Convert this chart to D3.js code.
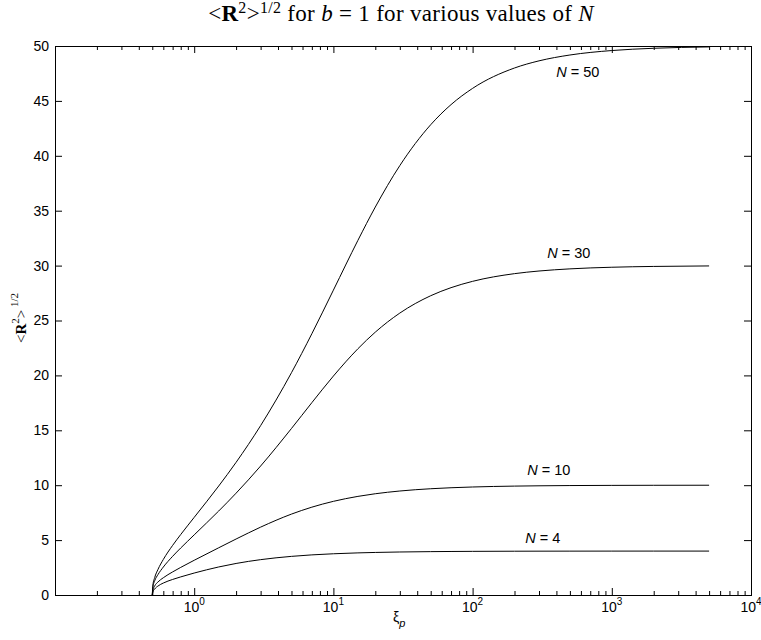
<!DOCTYPE html>
<html>
<head>
<meta charset="utf-8">
<script src="https://cdn.jsdelivr.net/npm/d3@7/dist/d3.min.js"></script>
<style>
  body { margin: 0; background: #fff; }
  svg { display: block; }
  .tick text { font-family: "Liberation Sans", Arial, sans-serif; }
</style>
</head>
<body>
<svg id="chart" width="761" height="640"></svg>
<script>
// persistence length values (x) and end-to-end distance
const xi = [0.5, 0.505, 0.52, 0.55, 0.6, 0.7, 0.8, 1, 1.5, 2, 3, 5, 7, 10, 15, 20, 30, 50, 70, 100, 200, 300, 500, 1000, 2000, 5000];
const rN4  = [0, 0.280, 0.545, 0.821, 1.089, 1.416, 1.649, 2.000, 2.553, 2.872, 3.220, 3.519, 3.653, 3.755, 3.836, 3.876, 3.917, 3.950, 3.964, 3.975, 3.988, 3.992, 3.995, 3.998, 3.999, 4.000];
const rN10 = [0, 0.437, 0.822, 1.195, 1.572, 2.102, 2.514, 3.162, 4.301, 5.099, 6.181, 7.369, 7.999, 8.530, 8.982, 9.222, 9.471, 9.678, 9.768, 9.837, 9.918, 9.945, 9.967, 9.984, 9.992, 9.997];
const rN30 = [0, 0.725, 1.286, 1.869, 2.546, 3.524, 4.280, 5.477, 7.649, 9.274, 11.747, 15.167, 17.516, 19.941, 22.428, 23.940, 25.676, 27.256, 27.991, 28.567, 29.267, 29.508, 29.703, 29.851, 29.925, 29.970];
const rN50 = [0, 0.903, 1.578, 2.344, 3.237, 4.519, 5.506, 7.071, 9.925, 12.083, 15.427, 20.249, 23.792, 27.766, 32.301, 35.334, 39.108, 42.830, 44.662, 46.142, 47.997, 48.647, 49.180, 49.587, 49.793, 49.917];
const seriesN = ['4', '10', '30', '50'];
const yTicks = [0, 5, 10, 15, 20, 25, 30, 35, 40, 45, 50];
const xDecades = [0, 1, 2, 3, 4];

const series = [rN4, rN10, rN30, rN50];

const mLeft = 55, mRight = 751, mTop = 46, mBottom = 595;

const svg = d3.select('#chart');

const x = d3.scaleLog().domain([0.1, 1e4]).range([mLeft, mRight]);
const y = d3.scaleLinear().domain([0, 50]).range([mBottom, mTop]);

// all log ticks 0.1 .. 10^4, major = powers of ten
const allTicks = [];
for (let e = -1; e < 4; e++) {
  for (let m = 1; m < 10; m++) allTicks.push(m * Math.pow(10, e));
}
allTicks.push(1e4);
const isMajor = v => Math.abs(Math.log10(v) - Math.round(Math.log10(v))) < 1e-9;
const majorX = allTicks.filter(isMajor);
const minorX = allTicks.filter(v => !isMajor(v));

function styleAxis(g) {
  g.select('.domain').remove();
  g.selectAll('line').attr('stroke', '#000').attr('stroke-width', 1);
}

// bottom
svg.append('g').attr('transform', 'translate(0,' + mBottom + ')')
  .call(d3.axisBottom(x).tickValues(majorX).tickSize(-7).tickFormat(''))
  .call(styleAxis);
svg.append('g').attr('transform', 'translate(0,' + mBottom + ')')
  .call(d3.axisBottom(x).tickValues(minorX).tickSize(-4).tickFormat(''))
  .call(styleAxis);
// top
svg.append('g').attr('transform', 'translate(0,' + mTop + ')')
  .call(d3.axisTop(x).tickValues(majorX).tickSize(-7).tickFormat(''))
  .call(styleAxis);
svg.append('g').attr('transform', 'translate(0,' + mTop + ')')
  .call(d3.axisTop(x).tickValues(minorX).tickSize(-4).tickFormat(''))
  .call(styleAxis);
// left
svg.append('g').attr('transform', 'translate(' + mLeft + ',0)')
  .call(d3.axisLeft(y).tickValues(yTicks).tickSize(-7).tickPadding(6).tickFormat(d3.format('d')))
  .call(styleAxis)
  .call(g => g.selectAll('text').attr('font-size', 14).attr('fill', '#000'));
// right
svg.append('g').attr('transform', 'translate(' + mRight + ',0)')
  .call(d3.axisRight(y).tickValues(yTicks).tickSize(-7).tickFormat(''))
  .call(styleAxis);

// box
svg.append('rect')
  .attr('x', mLeft + 0.5).attr('y', mTop + 0.5)
  .attr('width', mRight - mLeft).attr('height', mBottom - mTop)
  .attr('fill', 'none').attr('stroke', '#000').attr('stroke-width', 1);

// decade labels 10^k
const xl = svg.append('g')
  .attr('font-family', '"Liberation Sans", Arial, sans-serif')
  .attr('font-size', 14);
xDecades.forEach(k => {
  const t = xl.append('text')
    .attr('x', x(Math.pow(10, k)))
    .attr('y', mBottom + 17)
    .attr('text-anchor', 'middle');
  t.append('tspan').text('10');
  t.append('tspan').attr('dy', -7).attr('font-size', 10).text(k);
});

// curves
const line = d3.line()
  .x(d => x(d[0]))
  .y(d => y(d[1]))
  .curve(d3.curveMonotoneX);

series.forEach(s => {
  svg.append('path')
    .datum(xi.map((v, i) => [v, s[i]]))
    .attr('d', line)
    .attr('fill', 'none')
    .attr('stroke', '#000')
    .attr('stroke-width', 1);
});

// curve labels: anchored near the plateau of each curve
const labelXi = [239, 247, 344, 399];
const labelDy = [-8, -10, -8, 31];
const labels = svg.append('g')
  .attr('font-family', '"Liberation Sans", Arial, sans-serif')
  .attr('font-size', 14.5);
seriesN.forEach((n, i) => {
  const t = labels.append('text')
    .attr('x', x(labelXi[i]))
    .attr('y', y(+n) + labelDy[i]);
  t.append('tspan').attr('font-style', 'italic').text('N');
  t.append('tspan').text(' = ' + n);
});

// title
const title = svg.append('text')
  .attr('x', (mLeft + mRight) / 2 - 2)
  .attr('y', 21)
  .attr('text-anchor', 'middle')
  .attr('font-family', '"Liberation Serif", "Times New Roman", serif')
  .attr('font-size', 23)
  .attr('letter-spacing', 0.3);
title.append('tspan').text('<');
title.append('tspan').attr('font-weight', 'bold').text('R');
title.append('tspan').attr('font-size', 16).attr('dy', -8).text('2');
title.append('tspan').attr('dy', 8).text('>');
title.append('tspan').attr('font-size', 16).attr('dy', -8).text('1/2');
title.append('tspan').attr('dy', 8).text(' for ');
title.append('tspan').attr('font-style', 'italic').text('b');
title.append('tspan').text(' = 1 for various values of ');
title.append('tspan').attr('font-style', 'italic').text('N');

// y label
const yl = svg.append('text')
  .attr('transform', 'translate(26,318) rotate(-90)')
  .attr('text-anchor', 'middle')
  .attr('font-family', '"Liberation Serif", "Times New Roman", serif')
  .attr('font-size', 15);
yl.append('tspan').text('<');
yl.append('tspan').attr('font-weight', 'bold').text('R');
yl.append('tspan').attr('font-size', 11).attr('dy', -7).text('2');
yl.append('tspan').attr('dy', 7).text('>');
yl.append('tspan').attr('font-size', 11).attr('dy', -8).text(' 1/2');

// x label
const xlab = svg.append('text')
  .attr('x', (mLeft + mRight) / 2 - 10)
  .attr('y', mBottom + 27)
  .attr('font-family', '"Liberation Sans", Arial, sans-serif')
  .attr('font-size', 14);
xlab.append('tspan').text('ξ');
xlab.append('tspan').attr('font-size', 11).attr('font-style', 'italic').attr('dy', 5).text('p');
</script>
</body>
</html>
